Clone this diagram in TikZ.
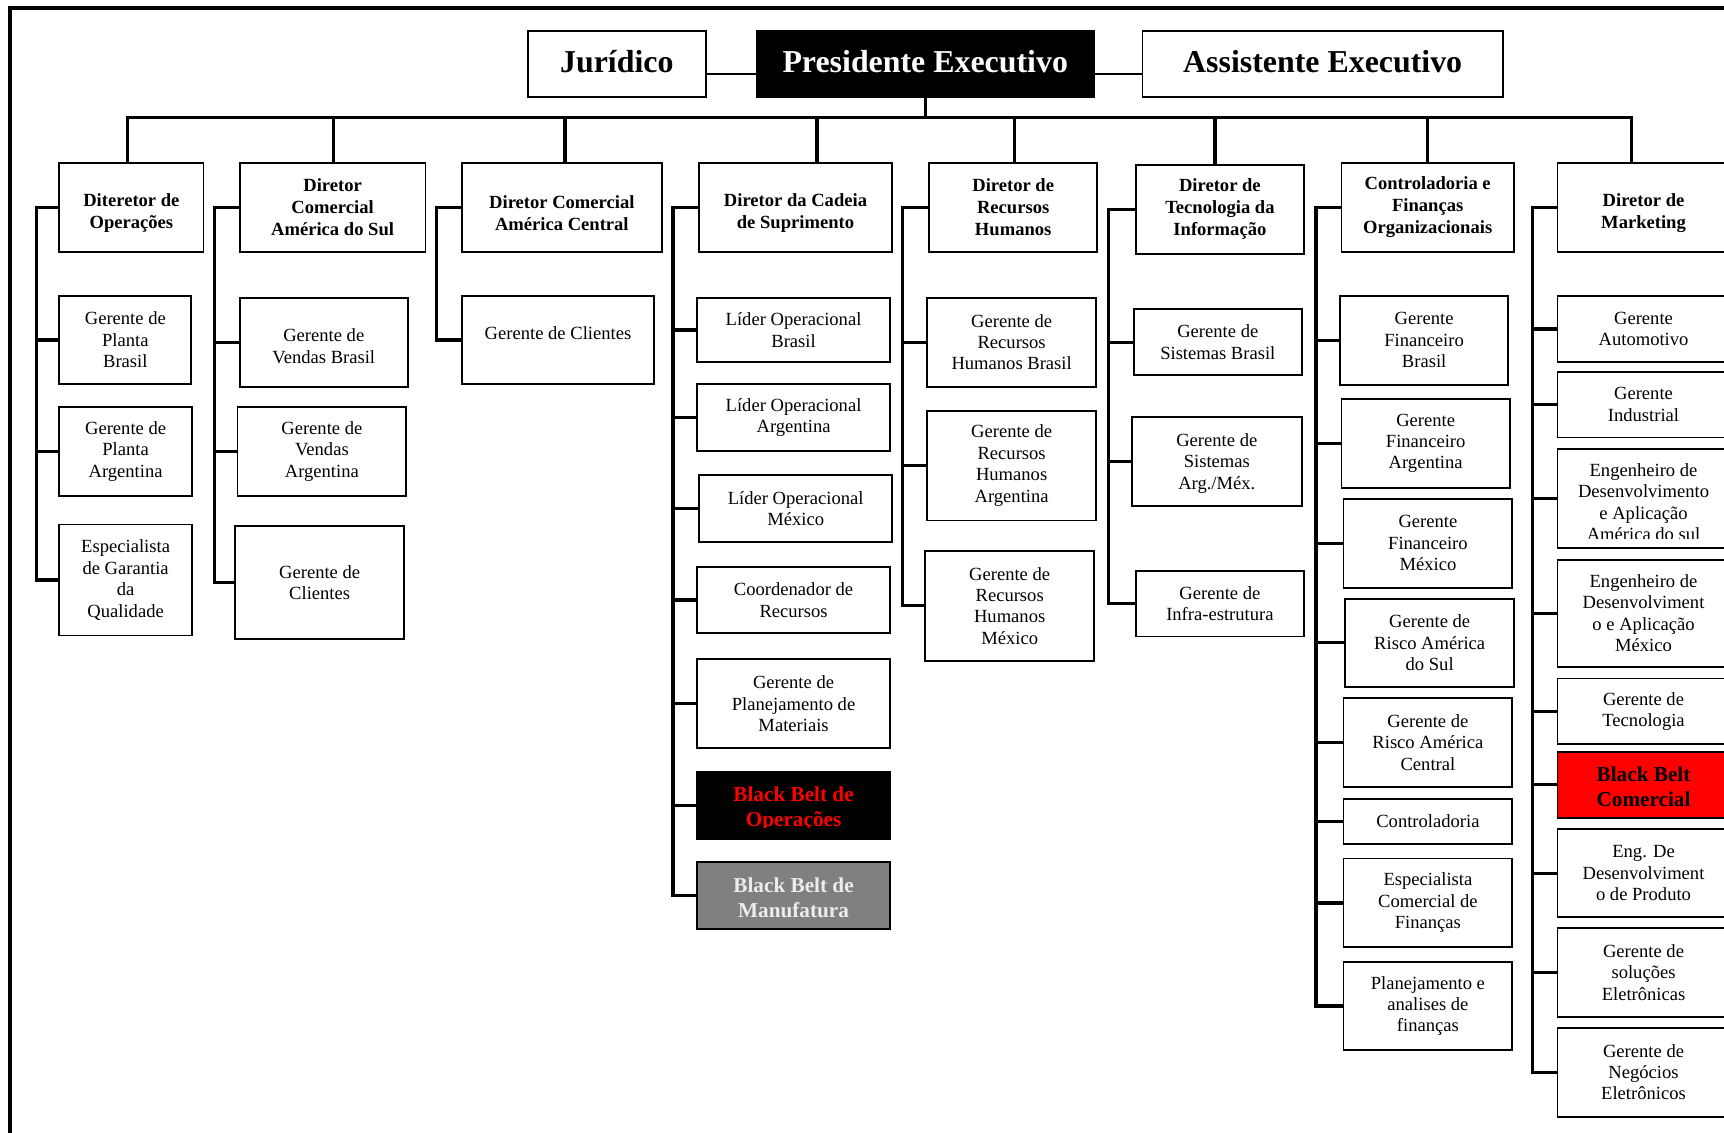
\documentclass[tikz,border=0pt]{standalone}
\usepackage{fontspec}
\setmainfont{Liberation Serif}
\definecolor{bbred}{RGB}{255,0,0}
\definecolor{bbgray}{RGB}{128,128,128}
\definecolor{bblight}{RGB}{236,236,236}
% box placed by its corners: [style]{name}{x1}{y1}{x2}{y2}{text}
\newcommand\orgbox[7][]{\node[cbox,#1,minimum width={#5-#3},minimum height={#6-#4}] (#2) at ({(#3+#5)/2},{(#4+#6)/2}) {#7};}
% text set inside a box, moved vertically: [style]{box}{shift}{text}
\newcommand\boxtext[4][]{\node[plain,#1] at ([yshift=#3]#2.center) {#4};}
\begin{document}
\begin{tikzpicture}[x=1pt,y=-1pt,
  cbox/.style={draw=black,line width=1.6pt,fill=white,inner sep=0pt,align=center,
    font=\fontsize{16.9}{19.5}\selectfont},
  dirbox/.style={font=\bfseries\fontsize{16.9}{20}\selectfont},
  headbox/.style={font=\bfseries\fontsize{29}{32}\selectfont},
  beltfont/.style={font=\bfseries\fontsize{19.3}{23}\selectfont},
  plain/.style={inner sep=0pt,align=center,font=\fontsize{16.9}{19.5}\selectfont},
  wire/.style={line width=3pt,line cap=rect,line join=miter}]
\useasboundingbox (0,0) rectangle (1568,1030);
% outer frame (left and top edges)
\draw[line width=4pt] (9,1040) -- (9,7.5) -- (1580,7.5);

% executive row
\orgbox{jur}{480}{28}{642}{88}{}
\boxtext[headbox]{jur}{2pt}{Jurídico}
\orgbox[fill=black]{pres}{688}{28}{995}{88}{}
\boxtext[headbox,text=white]{pres}{2pt}{Presidente Executivo}
\orgbox{asst}{1039}{28}{1367}{88}{}
\boxtext[headbox]{asst}{2pt}{Assistente Executivo}
\draw[line width=2pt] ([yshift=-9pt]jur.east) -- ([yshift=-9pt]pres.west);
\draw[line width=2pt] ([yshift=-9pt]pres.east) -- ([yshift=-9pt]asst.west);

% directors
\orgbox{d1}{54}{148}{185}{229}{}
\boxtext[dirbox]{d1}{-5.5pt}{Diteretor de\\Operações}
\orgbox[dirbox]{d2}{218}{148}{387}{229}{Diretor\\Comercial\\América do Sul}
\orgbox{d3}{420}{148}{602}{229}{}
\boxtext[dirbox]{d3}{-5pt}{Diretor Comercial\\América Central}
\orgbox{d4}{636}{148}{811}{229}{}
\boxtext[dirbox]{d4}{-5.5pt}{Diretor da Cadeia\\de Suprimento}
\orgbox[dirbox]{d5}{845}{148}{998}{229}{Diretor de\\Recursos\\Humanos}
\orgbox[dirbox]{d6}{1033}{150}{1186}{231}{Diretor de\\Tecnologia da\\Informação}
\orgbox[dirbox]{d7}{1220}{148}{1377}{229}{Controladoria e\\Finanças\\Organizacionais}
\orgbox{d8}{1416.6}{148}{1573}{229}{}
\boxtext[dirbox]{d8}{-5.5pt}{Diretor de\\Marketing}

% main bus
\coordinate (busL) at (116,107);
\coordinate (busR) at (1484,107);
\draw[wire] (busL) -- (busR);
\draw[wire] (pres.south) -- (pres.south |- busL);
\foreach \n/\x in {1/116,2/303,3/514,4/743,5/923,6/1105,7/1298,8/1484}{
  \coordinate (k\n) at (\x,107);
  \draw[wire] (k\n) -- (k\n |- d\n.north);
}

% Operações
\orgbox{c1a}{54}{269}{174}{349.5}{Gerente de\\Planta\\Brasil}
\orgbox{c1b}{54}{370}{174.5}{450.8}{Gerente de\\Planta\\Argentina}
\orgbox{c1c}{54}{477}{174.5}{578}{Especialista\\de Garantia\\da\\Qualidade}

% Comercial América do Sul
\orgbox{c2a}{218}{270.7}{371}{351.7}{}
\boxtext{c2a}{-3.5pt}{Gerente de\\Vendas Brasil}
\orgbox{c2b}{216}{370}{369.5}{451}{Gerente de\\Vendas\\Argentina}
\orgbox{c2c}{214}{478.4}{367.5}{581.5}{Gerente de\\Clientes}

% Comercial América Central
\orgbox{c3a}{420}{269}{595}{349.5}{}
\boxtext{c3a}{6.5pt}{Gerente de Clientes}

% Cadeia de Suprimento
\orgbox{c4a}{634}{270.7}{809.5}{329.5}{Líder Operacional\\Brasil}
\orgbox{c4b}{634}{349.5}{809.5}{410.2}{Líder Operacional\\Argentina}
\orgbox{c4c}{636}{432}{811.3}{492.7}{Líder Operacional\\México}
\orgbox{c4d}{634}{515.4}{809.5}{576}{Coordenador de\\Recursos}
\orgbox{c4e}{634}{599.7}{809.5}{680.3}{Gerente de\\Planejamento de\\Materiais}
\orgbox[fill=black]{c4f}{634}{701.8}{809.5}{763}{}
\begin{scope}
  \clip (634,701.8) rectangle (809.5,752.8);
  \boxtext[beltfont,text=bbred]{c4f}{-3pt}{Black Belt de\\Operações}
\end{scope}
\orgbox[fill=bbgray]{c4g}{634}{784}{809.5}{844.6}{}
\boxtext[beltfont,text=bblight]{c4g}{-2.5pt}{Black Belt de\\Manufatura}

% Recursos Humanos
\orgbox{c5a}{843.4}{270.7}{996.8}{351.7}{Gerente de\\Recursos\\Humanos Brasil}
\orgbox{c5b}{843.4}{373.5}{996.8}{473.5}{Gerente de\\Recursos\\Humanos\\Argentina}
\orgbox{c5c}{841.6}{500.8}{995}{601.2}{Gerente de\\Recursos\\Humanos\\México}

% Tecnologia da Informação
\orgbox{c6a}{1031.2}{281}{1184}{341.4}{Gerente de\\Sistemas Brasil}
\orgbox{c6b}{1029.4}{379.6}{1184}{460.2}{}
\boxtext{c6b}{-1.5pt}{Gerente de\\Sistemas\\Arg./Méx.}
\orgbox{c6c}{1033}{519}{1186}{579}{Gerente de\\Infra-estrutura}

% Controladoria e Finanças
\orgbox{c7a}{1218.7}{269}{1371.8}{350}{Gerente\\Financeiro\\Brasil}
\orgbox{c7b}{1220}{362.9}{1373.3}{443.5}{Gerente\\Financeiro\\Argentina}
\orgbox{c7c}{1222}{453.8}{1375.4}{534.5}{Gerente\\Financeiro\\México}
\orgbox{c7d}{1223.6}{544.5}{1377}{624.8}{Gerente de\\Risco América\\do Sul}
\orgbox{c7e}{1222}{634.8}{1375.4}{715.5}{Gerente de\\Risco América\\Central}
\orgbox{c7f}{1222}{727}{1375.4}{767.3}{Controladoria}
\orgbox{c7g}{1222}{780.7}{1375.4}{861.6}{Especialista\\Comercial de\\Finanças}
\orgbox{c7h}{1222}{874.7}{1375.4}{955.3}{Planejamento e\\analises de\\finanças}

% Marketing
\orgbox{c8a}{1416.6}{269}{1573}{329.5}{Gerente\\Automotivo}
\orgbox{c8b}{1416.6}{338}{1573}{398}{Gerente\\Industrial}
\orgbox{c8c}{1416.6}{408.7}{1573}{498.7}{}
\begin{scope}
  \clip (1416.6,408.7) rectangle (1573,489.6);
  \boxtext{c8c}{-3pt}{Engenheiro de\\Desenvolvimento\\e Aplicação\\América do sul}
\end{scope}
\orgbox{c8d}{1416.6}{509.3}{1573}{606.3}{Engenheiro de\\Desenvolviment\\o e Aplicação\\México}
\orgbox{c8e}{1416.6}{617}{1573}{677}{Gerente de\\Tecnologia}
\orgbox[fill=bbred]{c8f}{1416.6}{683.7}{1573}{743.7}{}
\boxtext[beltfont,text=black]{c8f}{-2pt}{Black Belt\\Comercial}
\orgbox{c8g}{1416.6}{754.3}{1573}{834.3}{Eng. De\\Desenvolviment\\o de Produto}
\orgbox{c8h}{1416.6}{844.3}{1573}{924.7}{Gerente de\\soluções\\Eletrônicas}
\orgbox{c8i}{1416.6}{934.7}{1573}{1015.6}{Gerente de\\Negócios\\Eletrônicos}

% side buses of each director
\coordinate (v1) at (33,0);
\coordinate (v2) at (195,0);
\coordinate (v3) at (397,0);
\coordinate (v4) at (612,0);
\coordinate (v5) at (821,0);
\coordinate (v6) at (1008,0);
\coordinate (v7) at (1197,0);
\coordinate (v8) at (1394,0);
\draw[wire] (d1.west) -| (v1 |- c1c.west) -- (c1c.west);
\draw[wire] (d2.west) -| (v2 |- c2c.west) -- (c2c.west);
\draw[wire] (d3.west) -| (v3 |- c3a.west) -- (c3a.west);
\draw[wire] (d4.west) -| (v4 |- c4g.west) -- (c4g.west);
\draw[wire] (d5.west) -| (v5 |- c5c.west) -- (c5c.west);
\draw[wire] (d6.west) -| (v6 |- c6c.west) -- (c6c.west);
\draw[wire] (d7.west) -| (v7 |- c7h.west) -- (c7h.west);
\draw[wire] (d8.west) -| (v8 |- c8i.west) -- (c8i.west);
\foreach \c/\v in {c1a/v1,c1b/v1,c2a/v2,c2b/v2,
                   c4a/v4,c4b/v4,c4c/v4,c4d/v4,c4e/v4,c4f/v4,
                   c5a/v5,c5b/v5,c6a/v6,c6b/v6,
                   c7a/v7,c7b/v7,c7c/v7,c7d/v7,c7e/v7,c7f/v7,c7g/v7,
                   c8a/v8,c8b/v8,c8c/v8,c8d/v8,c8e/v8,c8f/v8,c8g/v8,c8h/v8}{
  \draw[wire] (\c.west) -- (\c.west -| \v);
}
\end{tikzpicture}
\end{document}
